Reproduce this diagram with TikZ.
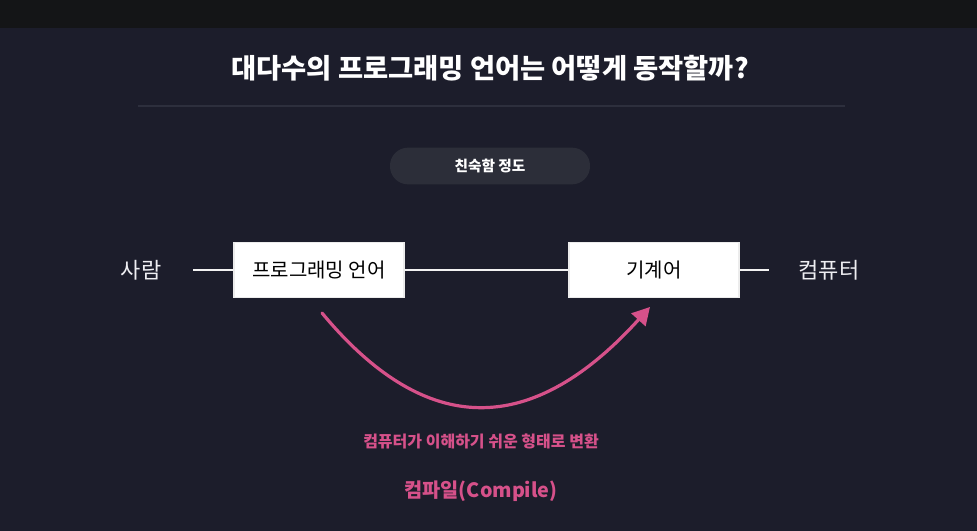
\documentclass[tikz,border=0pt]{standalone}
\usepackage{fontspec}
\setmainfont{Noto Sans CJK KR}
\usetikzlibrary{positioning,arrows.meta}
\definecolor{pagebg}{HTML}{1C1D2B}
\definecolor{topbar}{HTML}{141517}
\definecolor{rulegray}{HTML}{2D2F3D}
\definecolor{pillgray}{HTML}{2C2E39}
\definecolor{chalkpink}{HTML}{D6518A}
\definecolor{softwhite}{HTML}{EEEEF2}
\tikzset{
    langbox/.style={fill=white, draw=white!85!gray, line width=1pt, minimum width=127.5pt, minimum height=41pt, inner sep=0pt, text=black, font=\fontsize{15}{17}\selectfont},
    sidelabel/.style={text=softwhite, font=\fontsize{16.5}{19}\selectfont},
    chalkline/.style={white!90!gray, line width=1.6pt},
}
\begin{document}
\begin{tikzpicture}[x=0.75pt, y=-0.75pt]
    \useasboundingbox (0,0) rectangle (977,531);
    \fill[pagebg] (0,0) rectangle (977,531);
    \fill[topbar] (0,0) rectangle (977,28);
    \node (title) at (490,68) {\color{white}\bfseries\fontsize{20.5}{23}\selectfont 대다수의 프로그래밍 언어는 어떻게 동작할까?};
    \draw[rulegray, line width=0.8pt] (138,106) -- (845,106);
    \node[fill=pillgray, rounded corners=13.5pt, minimum width=150pt, minimum height=27.5pt] (pill) at (490,166) {\color{white}\bfseries\fontsize{11}{13}\selectfont 친숙함 정도};
    \node[sidelabel] (human) at (141,270) {사람};
    \node[langbox] (prog) at (319,270) {프로그래밍 언어};
    \node[langbox] (machine) at (654,270) {기계어};
    \node[sidelabel] (computer) at (829,270) {컴퓨터};
    \coordinate (lstart) at (193,270);
    \coordinate (rend) at (769,270);
    \draw[chalkline] (lstart) -- (prog.west);
    \draw[chalkline] (prog.east) -- (machine.west);
    \draw[chalkline] (machine.east) -- (rend);
    \coordinate (cfrom) at (322,313);
    \coordinate (cto) at (650,307);
    \draw[-{Triangle[length=13pt, width=14pt]}, chalkpink, line width=2.4pt, line cap=round] (cfrom) .. controls (420,431) and (525,445) .. (cto);
    \node[text=chalkpink, font=\bfseries\fontsize{12}{14}\selectfont] (convert) at (481,441) {컴퓨터가 이해하기 쉬운 형태로 변환};
    \node[text=chalkpink, font=\bfseries\fontsize{14.8}{18}\selectfont] (compile) at (481,491) {컴파일(Compile)};
\end{tikzpicture}
\end{document}
